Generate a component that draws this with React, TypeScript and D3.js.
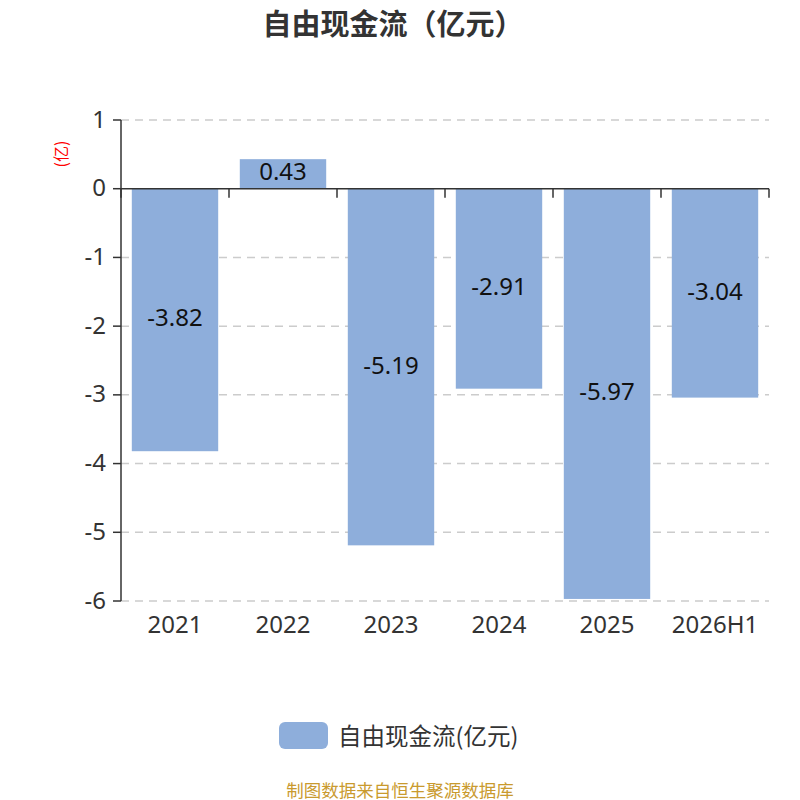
import React from "react";
import * as d3 from "d3";

const categories = ["2021", "2022", "2023", "2024", "2025", "2026H1"];
const values = [-3.82, 0.43, -5.19, -2.91, -5.97, -3.04];
const yTicks = [1, 0, -1, -2, -3, -4, -5, -6];

const title = "自由现金流（亿元）";
const seriesName = "自由现金流(亿元)";
const yName = "(亿)";
const footer = "制图数据来自恒生聚源数据库";

const FONT = "'Noto Sans', 'Noto Sans CJK SC', sans-serif";
const CJK = "'Noto Sans CJK SC', 'Noto Sans', sans-serif";

export default function App() {
  const left = 121, right = 769, top = 120, bottom = 601;
  const x = d3.scaleBand<string>().domain(categories).range([left, right]).paddingInner(0.2).paddingOuter(0.1);
  const y = d3.scaleLinear().domain([-6, 1]).range([bottom, top]);
  const y0 = y(0);
  const boundaries = d3.range(categories.length + 1).map((i) => left + i * x.step());

  return (
    <svg width={800} height={800} style={{ position: "absolute", left: 0, top: 0, background: "#fff" }}>
      <text x={393} y={35} textAnchor="middle" fontFamily={CJK} fontWeight="bold" fontSize={29} fill="#333">{title}</text>

      {yTicks.map((t) => (
        <g key={t}>
          {t !== 0 && (
            <line x1={left} x2={right} y1={y(t)} y2={y(t)} stroke="#ccc" strokeWidth={1.5} strokeDasharray="8,6" />
          )}
          <line x1={left - 8} x2={left} y1={y(t)} y2={y(t)} stroke="#333" strokeWidth={1.5} />
          <text x={106} y={y(t) - 2} textAnchor="end" dominantBaseline="central" fontFamily={FONT} fontSize={24} fill="#333">{t}</text>
        </g>
      ))}

      {categories.map((c, i) => {
        const v = values[i];
        const yt = Math.min(y(v), y0);
        const h = Math.abs(y(v) - y0);
        return (
          <g key={c}>
            <rect x={x(c)} y={yt} width={x.bandwidth()} height={h} fill="#8eaedb" />
            <text x={(x(c) as number) + x.bandwidth() / 2} y={yt + h / 2 - 3} textAnchor="middle" dominantBaseline="central" fontFamily={FONT} fontSize={24} fill="#111">{v.toFixed(2)}</text>
            <text x={(x(c) as number) + x.bandwidth() / 2} y={623} textAnchor="middle" dominantBaseline="central" fontFamily={FONT} fontSize={24} fill="#333">{c}</text>
          </g>
        );
      })}

      <line x1={left} x2={right} y1={y0} y2={y0} stroke="#333" strokeWidth={1.5} />
      {boundaries.map((b, i) => (
        <line key={i} x1={b} x2={b} y1={y0} y2={y0 + 9} stroke="#333" strokeWidth={1.5} />
      ))}
      <line x1={left} x2={left} y1={top} y2={bottom} stroke="#333" strokeWidth={1.5} />

      <text transform={`translate(60,154) rotate(-90)`} textAnchor="middle" dominantBaseline="central" fontFamily={CJK} fontSize={16} fill="#ff0000">{yName}</text>

      <rect x={279} y={722} width={49} height={27} rx={6} fill="#8eaedb" />
      <text x={338} y={735} dominantBaseline="central" fontFamily={CJK} fontSize={23.5} fill="#333">{seriesName}</text>

      <text x={400} y={789} textAnchor="middle" dominantBaseline="central" fontFamily={CJK} fontSize={17.5} fill="#c99a2e">{footer}</text>
    </svg>
  );
}
